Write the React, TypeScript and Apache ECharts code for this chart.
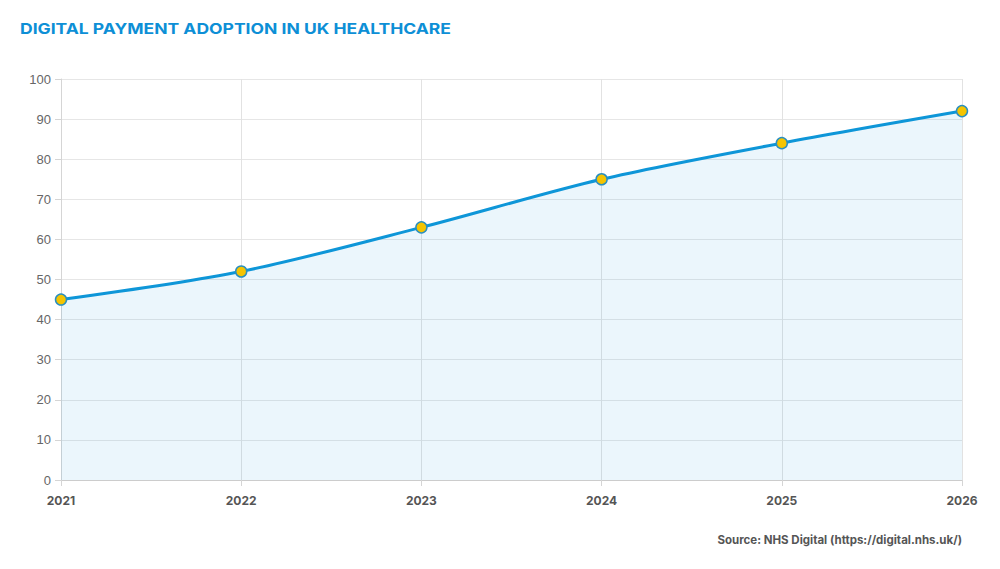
import React, { useEffect, useRef } from "react";
import * as echarts from "echarts";

const years = ["2021", "2022", "2023", "2024", "2025", "2026"];
const adoption = [45, 52, 63, 75, 84, 92];
const yTicks = { min: 0, max: 100, interval: 10 };

export default function App() {
  const ref = useRef<HTMLDivElement>(null);
  useEffect(() => {
    document.body.style.margin = "0";
    const chart = echarts.init(ref.current!, null, { renderer: "svg" });
    chart.setOption({
      animation: false,
      backgroundColor: "#ffffff",
      graphic: [
        {
          type: "text",
          x: 20,
          y: 28,
          scaleX: 1.168,
          style: {
            text: "DIGITAL PAYMENT ADOPTION IN UK HEALTHCARE",
            fontFamily: "Inter",
            fontSize: 15,
            fontWeight: "bold",
            fill: "#0d8fd6",
            align: "left",
            verticalAlign: "middle",
          },
        },
        {
          type: "text",
          x: 962,
          y: 540,
          style: {
            text: "Source: NHS Digital (https://digital.nhs.uk/)",
            fontFamily: "Inter",
            fontSize: 11.5,
            fontWeight: "bold",
            fill: "#555555",
            align: "right",
            verticalAlign: "middle",
          },
        },
      ],
      grid: { left: 61, right: 38, top: 79, bottom: 89 },
      xAxis: {
        type: "category",
        data: years,
        boundaryGap: false,
        axisLine: { lineStyle: { color: "#cccccc" } },
        axisTick: { show: true, length: 6, lineStyle: { color: "#d5d5d5" } },
        axisLabel: {
          fontFamily: "Inter",
          fontSize: 12,
          fontWeight: "bold",
          color: "#555555",
          margin: 14,
        },
        splitLine: { show: true, lineStyle: { color: "#e2e2e2" } },
      },
      yAxis: {
        type: "value",
        min: yTicks.min,
        max: yTicks.max,
        interval: yTicks.interval,
        axisLine: { show: true, lineStyle: { color: "#d5d5d5" } },
        axisTick: { show: true, length: 6, lineStyle: { color: "#d5d5d5" } },
        axisLabel: {
          fontFamily: "Liberation Sans",
          fontSize: 13,
          color: "#666666",
          margin: 10,
        },
        splitLine: { show: true, lineStyle: { color: "#e6e6e6" } },
      },
      series: [
        {
          type: "line",
          data: adoption,
          smooth: 0.3,
          symbol: "circle",
          symbolSize: 11,
          lineStyle: { color: "#0e96d8", width: 3 },
          itemStyle: { color: "#f5c400", borderColor: "#2a8fbf", borderWidth: 1.5 },
          areaStyle: { color: "rgba(14,150,216,0.12)" },
        },
      ],
    });
    return () => chart.dispose();
  }, []);
  return <div ref={ref} style={{ width: 1000, height: 569 }} />;
}
